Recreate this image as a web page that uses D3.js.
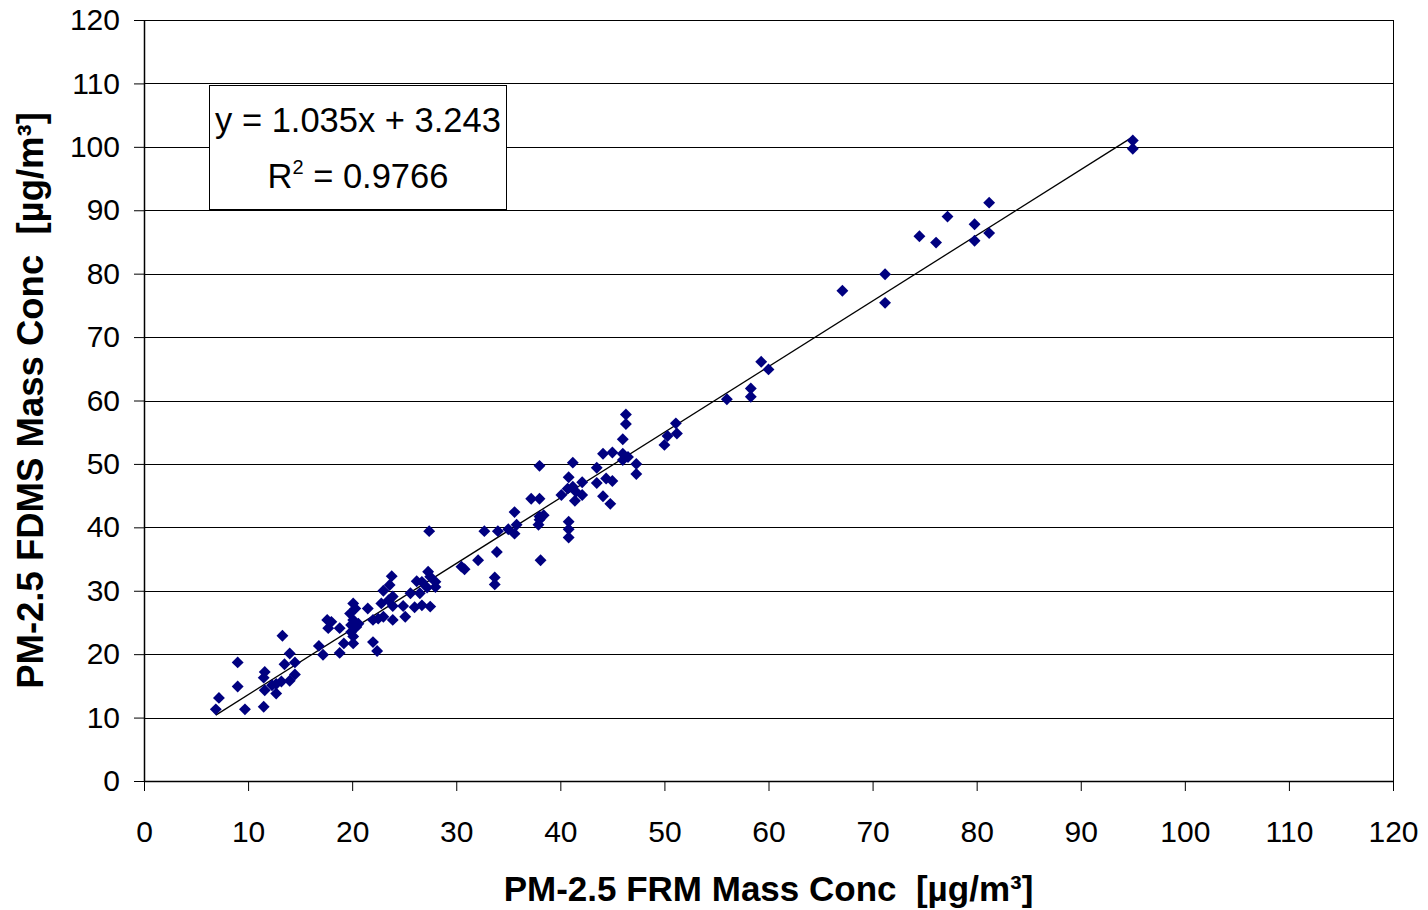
<!DOCTYPE html>
<html>
<head>
<meta charset="utf-8">
<script src="https://cdn.jsdelivr.net/npm/d3@7"></script>
<style>
  body { margin: 0; background: #fff; }
  text { font-family: Arial, "Liberation Sans", sans-serif; }
</style>
</head>
<body>
<div id="chart"></div>
<script>
// FRM (x) and FDMS (y) mass concentrations
var frmValues = [
    6.9, 7.2, 9.0, 9.0, 9.7, 11.5, 11.6, 11.5, 11.6, 12.3, 12.7, 12.7, 13.2, 13.3, 13.5, 14.0, 14.0, 14.5, 14.5,
    16.8, 17.2, 17.6, 17.7, 18.0, 18.8, 18.8, 19.2, 19.8, 19.9, 19.9, 20.1, 20.3, 20.1, 20.4, 20.6, 20.1, 20.1,
    21.5, 22.0, 22.0, 22.4, 22.5, 23.0, 22.8, 23.0, 23.5, 23.6, 23.8, 23.9, 23.9, 23.9, 24.9, 25.1, 25.6, 26.0,
    26.2, 26.5, 26.7, 26.7, 27.2, 27.3, 27.4, 27.5, 27.5, 28.0, 28.0,
    30.5, 30.8, 32.1, 32.7, 33.7, 33.7, 33.9, 34.0, 35.0, 35.6, 35.6, 35.8, 37.2, 37.9, 38.0, 38.0, 38.4, 38.0,
    38.0, 38.1, 40.1, 40.7, 40.8, 40.8, 40.8, 40.8, 41.2, 41.2, 41.4, 41.5, 42.1, 42.1, 43.5, 43.5, 44.1, 44.1,
    44.4, 44.8, 45.0, 45.0, 46.0, 46.0, 46.0, 46.3, 46.3, 46.5, 47.3, 47.3, 50.0, 50.3, 51.1, 51.2,
    56.0, 58.3, 58.3, 59.3, 60.0, 67.1, 71.2, 71.2, 74.5, 76.1, 77.2, 79.8, 79.8, 81.2, 81.2, 95.0, 95.0
];
var fdmsValues = [
    11.3, 13.1, 18.7, 14.9, 11.3, 11.7, 14.3, 16.3, 17.2, 15.1, 15.3, 13.8, 15.7, 22.9, 18.4, 20.1, 15.8, 18.7, 16.8,
    21.3, 19.9, 25.4, 24.1, 25.1, 24.1, 20.2, 21.7, 26.4, 24.6, 23.5, 28.0, 27.2, 25.4, 24.3, 24.8, 22.8, 21.7,
    27.2, 25.4, 21.9, 20.5, 25.6, 25.9, 28.0, 30.0, 28.5, 30.9, 32.3, 29.1, 27.6, 25.4, 27.6, 25.9, 29.6, 27.4,
    31.5, 29.6, 31.4, 27.7, 30.5, 33.0, 39.4, 32.2, 27.5, 31.4, 30.6,
    33.8, 33.4, 34.8, 39.4, 32.1, 31.0, 36.1, 39.4, 39.7, 39.0, 42.4, 40.4, 44.5, 40.4, 41.2, 41.7, 41.9, 44.5,
    49.7, 34.8, 45.1, 46.1, 47.9, 40.9, 39.7, 38.4, 46.4, 50.2, 44.2, 45.6, 47.1, 45.1, 49.4, 47.0, 51.6, 44.9,
    47.7, 43.7, 51.8, 47.3, 53.9, 51.6, 50.6, 57.8, 56.3, 51.1, 50.0, 48.4, 53.0, 54.4, 56.4, 54.8,
    60.2, 61.9, 60.6, 66.1, 64.9, 77.3, 79.9, 75.4, 85.9, 84.9, 89.0, 87.8, 85.2, 91.2, 86.4, 101.0, 99.7
];
var xTicks = [0, 10, 20, 30, 40, 50, 60, 70, 80, 90, 100, 110, 120];
var yTicks = [0, 10, 20, 30, 40, 50, 60, 70, 80, 90, 100, 110, 120];
var fitSlope = 1.035, fitIntercept = 3.243, fitR2 = "0.9766";

var margin = { top: 20, right: 35, bottom: 129, left: 144 },
    fullWidth = 1428, fullHeight = 910,
    width = fullWidth - margin.left - margin.right,
    height = fullHeight - margin.top - margin.bottom;

var svg = d3.select("#chart").append("svg")
    .attr("width", fullWidth)
    .attr("height", fullHeight);

var g = svg.append("g")
    .attr("transform", "translate(" + margin.left + "," + margin.top + ")");

var x = d3.scaleLinear().domain([0, 120]).range([0, width]);
var y = d3.scaleLinear().domain([0, 120]).range([height, 0]);

// gridlines
g.selectAll(".grid")
    .data(yTicks)
    .enter().append("line")
    .attr("class", "grid")
    .attr("x1", 0).attr("x2", width)
    .attr("y1", function (d) { return Math.round(y(d)) + 0.5; })
    .attr("y2", function (d) { return Math.round(y(d)) + 0.5; })
    .attr("stroke", "#000").attr("stroke-width", 1);

// plot area border
g.append("rect")
    .attr("x", 0.5).attr("y", 0.5)
    .attr("width", width).attr("height", height)
    .attr("fill", "none").attr("stroke", "#000").attr("stroke-width", 1);

var xAxis = d3.axisBottom(x).tickValues(xTicks).tickSize(10).tickPadding(30).tickSizeOuter(0);
var yAxis = d3.axisLeft(y).tickValues(yTicks).tickSize(10).tickPadding(14).tickSizeOuter(0);

var gx = g.append("g")
    .attr("transform", "translate(0," + height + ")")
    .call(xAxis);
var gy = g.append("g").call(yAxis);

[gx, gy].forEach(function (ax) {
    ax.select(".domain").attr("stroke", "#000").attr("stroke-width", 1.5);
    ax.selectAll(".tick line").attr("stroke", "#000");
    ax.selectAll(".tick text")
        .attr("fill", "#000")
        .style("font-size", "30px")
        .style("font-family", "Arial, 'Liberation Sans', sans-serif");
});

// trendline
var xMin = d3.min(frmValues), xMax = d3.max(frmValues);
g.append("line")
    .attr("x1", x(xMin)).attr("y1", y(fitSlope * xMin + fitIntercept))
    .attr("x2", x(xMax)).attr("y2", y(fitSlope * xMax + fitIntercept))
    .attr("stroke", "#000").attr("stroke-width", 1.3);

// points
var points = frmValues.map(function (v, i) { return { frm: v, fdms: fdmsValues[i] }; });
var diamond = d3.symbol().type(d3.symbolDiamond2).size(90);
g.selectAll(".dot")
    .data(points)
    .enter().append("path")
    .attr("class", "dot")
    .attr("d", diamond)
    .attr("transform", function (d) { return "translate(" + x(d.frm) + "," + y(d.fdms) + ")"; })
    .attr("fill", "#000080");

// equation box
var box = svg.append("g").attr("transform", "translate(209,85)");
box.append("rect")
    .attr("x", 0.5).attr("y", 0.5)
    .attr("width", 297).attr("height", 124)
    .attr("fill", "#fff").attr("stroke", "#000").attr("stroke-width", 1);
box.append("text")
    .attr("x", 149).attr("y", 47)
    .attr("text-anchor", "middle")
    .style("font-size", "34.5px")
    .text("y = " + fitSlope + "x + " + fitIntercept);
var r2 = box.append("text")
    .attr("x", 149).attr("y", 103)
    .attr("text-anchor", "middle")
    .style("font-size", "34.5px");
r2.append("tspan").text("R");
r2.append("tspan").attr("dy", -14).style("font-size", "20px").text("2");
r2.append("tspan").attr("dy", 14).text(" = " + fitR2);

// axis titles
svg.append("text")
    .attr("x", margin.left + width / 2)
    .attr("y", 901)
    .attr("text-anchor", "middle")
    .style("font-size", "35px")
    .style("font-weight", "bold")
    .style("white-space", "pre")
    .text("PM-2.5 FRM Mass Conc  [µg/m³]");

svg.append("text")
    .attr("transform", "translate(43," + (margin.top + height / 2) + ") rotate(-90)")
    .attr("text-anchor", "middle")
    .style("font-size", "36.5px")
    .style("font-weight", "bold")
    .style("white-space", "pre")
    .text("PM-2.5 FDMS Mass Conc  [µg/m³]");
</script>
</body>
</html>
